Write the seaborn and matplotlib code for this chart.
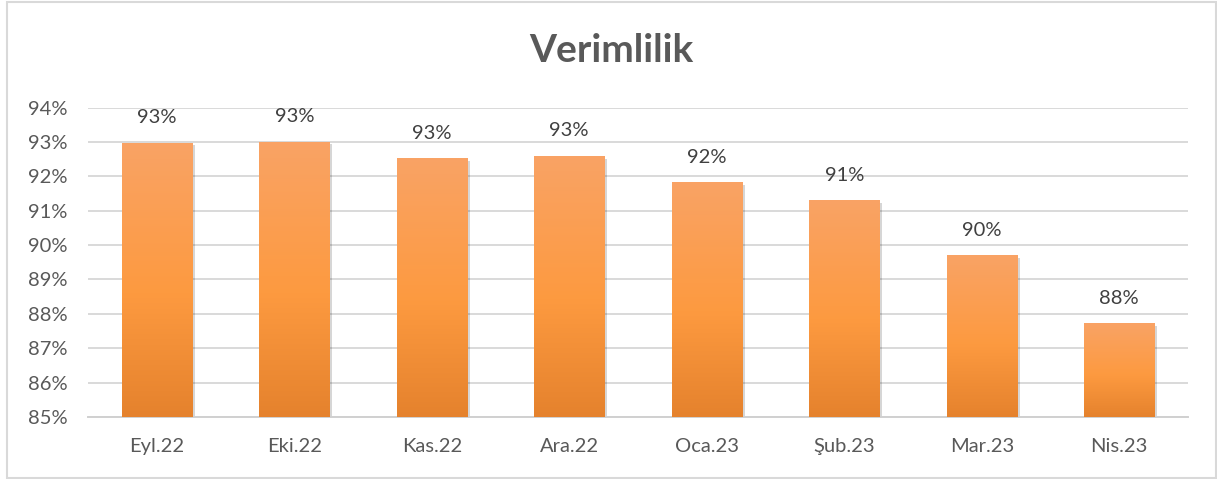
import numpy as np
import pandas as pd
import matplotlib
matplotlib.use("Agg")
import matplotlib.pyplot as plt
import matplotlib.patheffects as pe
from matplotlib.colors import LinearSegmentedColormap
from matplotlib.patches import Rectangle
from matplotlib.ticker import FuncFormatter
import seaborn as sns

# Monthly efficiency (%)
months = ["Eyl.22", "Eki.22", "Kas.22", "Ara.22", "Oca.23", "Şub.23", "Mar.23", "Nis.23"]
efficiency = [92.98, 93.01, 92.52, 92.59, 91.82, 91.30, 89.70, 87.72]
y_ticks = [85, 86, 87, 88, 89, 90, 91, 92, 93, 94]
title = "Verimlilik"

sns.set_theme(style="white")
plt.rcParams["font.family"] = ["Lato", "DejaVu Sans"]

W, H = 1217, 479
fig = plt.figure(figsize=(W / 100, H / 100), dpi=100)
fig.patch.set_facecolor("white")
ax = fig.add_axes([88 / W, 62 / H, 1100 / W, (417 - 107.5) / H])

df = pd.DataFrame({"Ay": months, "Verim": efficiency})
sns.barplot(data=df, x="Ay", y="Verim", color="#FC9A42", saturation=1,
            width=0.51, linewidth=0, ax=ax, zorder=2)

y0 = y_ticks[0]

# Vertical orange gradient inside each bar, with a light drop shadow
cmap = LinearSegmentedColormap.from_list(
    "bar_grad", [(0.0, "#E5822D"), (0.45, "#FD9A40"), (1.0, "#F9A365")])
grad = np.linspace(0, 1, 256).reshape(-1, 1)
for bar in ax.patches:
    x0 = bar.get_x()
    x1 = x0 + bar.get_width()
    top = bar.get_y() + bar.get_height()
    bar.set_path_effects([
        pe.SimplePatchShadow(offset=(2, -2), shadow_rgbFace="black", alpha=0.16),
        pe.Normal(),
    ])
    im = ax.imshow(grad, extent=(x0, x1, y0, top), origin="lower", cmap=cmap,
                   aspect="auto", zorder=3, interpolation="bilinear")
    im.set_clip_path(bar)

ax.set_xlim(-0.5, len(months) - 0.5)
ax.set_ylim(y0, y_ticks[-1])

# Value labels above the bars
for i, v in enumerate(efficiency):
    ax.annotate(f"{round(v):.0f}%", xy=(i, v), xytext=(0, 12),
                textcoords="offset points", ha="center", va="bottom",
                fontsize=14.5, color="#404040", zorder=5)

ax.set_yticks(y_ticks)
ax.yaxis.set_major_formatter(FuncFormatter(lambda v, _: f"{v:.0f}%"))
ax.yaxis.grid(True, color="#D9D9D9", linewidth=1.4)
ax.set_axisbelow(True)
ax.tick_params(axis="both", length=0, labelsize=14.5, labelcolor="#595959", pad=15)
ax.set_xlabel("")
ax.set_ylabel("")
for side in ["top", "right", "left"]:
    ax.spines[side].set_visible(False)
ax.spines["bottom"].set_color("#D0D0D0")
ax.spines["bottom"].set_linewidth(1.4)

fig.text(611 / W, 1 - 62 / H, title, ha="center", va="baseline",
         fontsize=28, fontweight="bold", color="#595959")

# Chart-area frame
fig.add_artist(Rectangle((6.5 / W, 1.5 / H), (1216 - 6.5) / W, (477.5 - 1.5) / H,
                         transform=fig.transFigure, fill=False,
                         edgecolor="#D9D9D9", linewidth=1.5))

fig.savefig("out.png", dpi=100, facecolor="white")
